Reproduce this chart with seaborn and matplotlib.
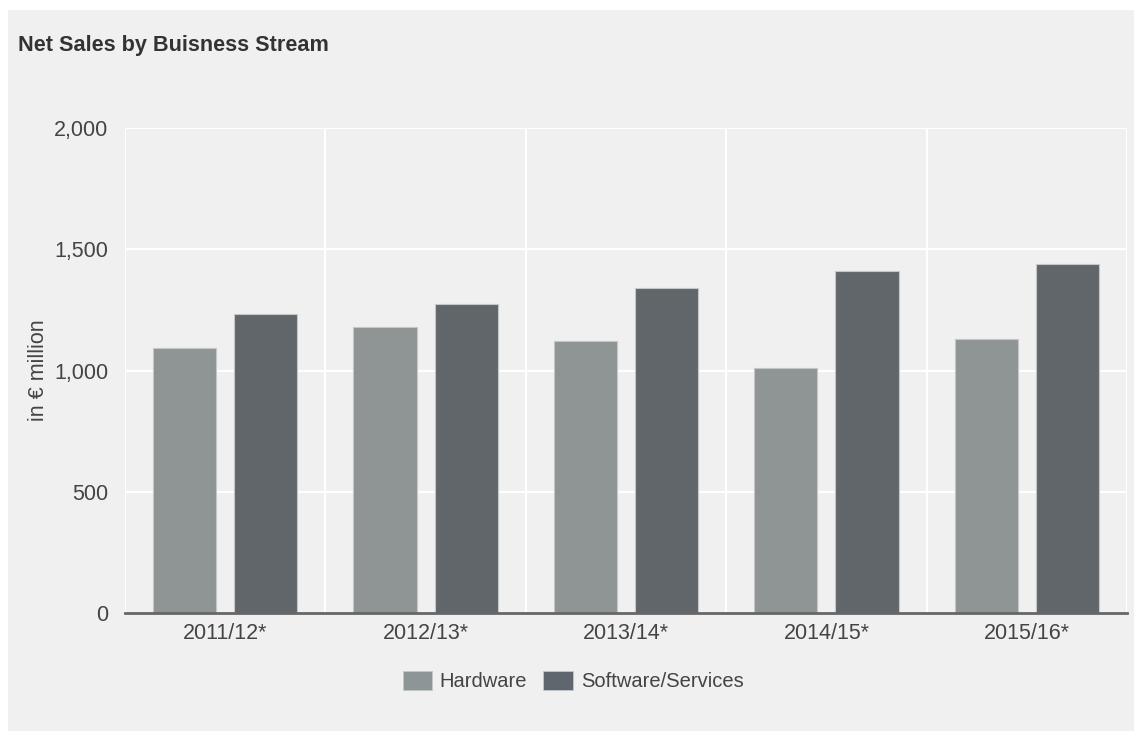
# -*- coding: utf-8 -*-
import pandas as pd
import matplotlib.pyplot as plt
from matplotlib.patches import Rectangle, Patch
import seaborn as sns

# data
years = ["2011/12*", "2012/13*", "2013/14*", "2014/15*", "2015/16*"]
hardware = [1093, 1181, 1123, 1010, 1129]
software = [1235, 1276, 1339, 1410, 1440]
streams = ["Hardware", "Software/Services"]
colors = ["#8e9596", "#5f666d"]

df = pd.DataFrame({
    "year": years * 2,
    "value": hardware + software,
    "stream": [streams[0]] * len(years) + [streams[1]] * len(years),
})

sns.set_style("white")
plt.rcParams["font.family"] = ["Liberation Sans", "DejaVu Sans"]
text_color = "#444444"
bg = "#f0f0f0"

fig = plt.figure(figsize = (11.34, 7.31), dpi = 100, facecolor = "white")
fig.patches.append(Rectangle((8 / 1134, 0), 1, 721 / 731, transform = fig.transFigure,
                             facecolor = bg, edgecolor = "none", zorder = -10))
ax = fig.add_axes([125 / 1134, 118 / 731, 1002 / 1134, 485 / 731])
ax.set_facecolor(bg)

# 分组柱状图
sns.barplot(data = df, x = "year", y = "value", hue = "stream", order = years,
            hue_order = streams, palette = colors, width = 0.81, gap = 0.22,
            edgecolor = "#c4c7c8", linewidth = 0.8, legend = False, ax = ax, zorder = 3)

ax.set_xlim(-0.5, len(years) - 0.5)
ax.set_ylim(0, 2000)
ax.set_yticks([0, 500, 1000, 1500, 2000])
ax.set_yticklabels(["0", "500", "1,000", "1,500", "2,000"])
ax.set_xticks(range(len(years)))
ax.set_xticks([i - 0.5 for i in range(len(years) + 1)], minor = True)
ax.grid(False)
ax.grid(axis = "y", which = "major", color = "white", linewidth = 1.5, zorder = 0)
ax.grid(axis = "x", which = "minor", color = "white", linewidth = 1.5, zorder = 0)
ax.set_axisbelow(True)
ax.tick_params(axis = "both", which = "both", length = 0, labelsize = 15.5, labelcolor = text_color)
ax.tick_params(axis = "y", pad = 12)
ax.tick_params(axis = "x", pad = 7)
for s in ["top", "right", "left"]:
    ax.spines[s].set_visible(False)
ax.spines["bottom"].set_color("#666666")
ax.spines["bottom"].set_linewidth(2)
ax.spines["bottom"].set_zorder(5)

ax.set_xlabel("")
ax.set_ylabel("in € million", fontsize = 15.5, color = text_color)
ax.yaxis.set_label_coords(-76 / 1002, 0.5)

fig.text(18 / 1134, 1 - 46 / 731, "Net Sales by Buisness Stream", fontsize = 15.6,
         fontweight = "bold", color = "#333333", va = "center", ha = "left")

handles = [Patch(facecolor = c, edgecolor = "#c4c7c8", linewidth = 0.6) for c in colors]
fig.legend(handles, streams, loc = "center", bbox_to_anchor = (573 / 1134, 1 - 681 / 731),
           ncol = 2, frameon = False, fontsize = 14.5, labelcolor = text_color,
           handlelength = 1.45, handleheight = 1.05, handletextpad = 0.4, columnspacing = 0.8)

fig.savefig("out.png", dpi = 100, facecolor = "white")
